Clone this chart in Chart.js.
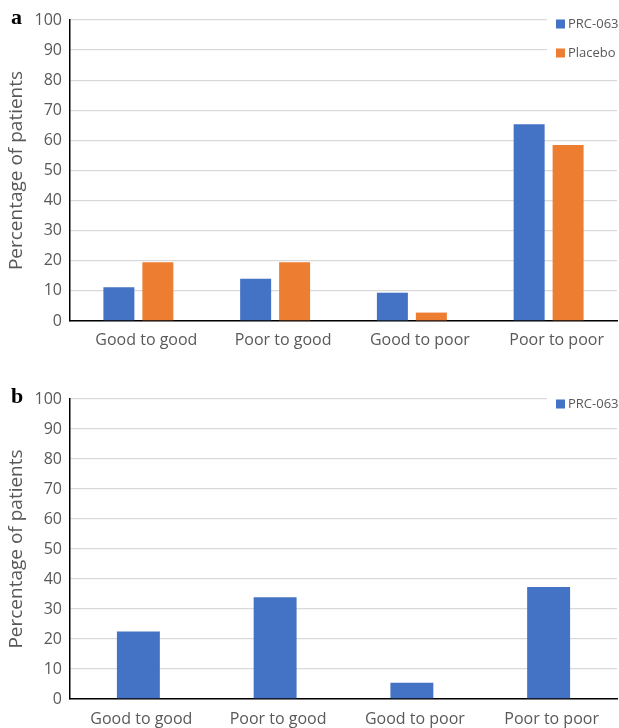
<!DOCTYPE html>
<html>
<head>
<meta charset="utf-8">
<script src="https://cdn.jsdelivr.net/npm/chart.js@4.4.1/dist/chart.umd.min.js"></script>
<style>
  html, body { margin: 0; padding: 0; background: #fff; }
  body { width: 619px; height: 728px; position: relative; overflow: hidden; }
  .panel { position: absolute; left: 0; width: 619px; }
  .tag { position: absolute; left: 11px; font: bold 22px "Liberation Serif", "DejaVu Serif", serif; color: #000; }
</style>
</head>
<body>
<div class="panel" style="top:0;height:355px"><canvas id="chart-a"></canvas></div>
<div class="panel" style="top:380px;height:348px"><canvas id="chart-b"></canvas></div>
<div class="tag" style="top:4px">a</div>
<div class="tag" style="top:383px">b</div>
<script>
const categories = ['Good to good', 'Poor to good', 'Good to poor', 'Poor to poor'];
const prcPanelA = [11.2, 14.0, 9.4, 65.4];
const placeboPanelA = [19.5, 19.5, 2.8, 58.5];
const prcPanelB = [22.5, 33.9, 5.4, 37.3];

const BLUE = '#4472C4';
const ORANGE = '#ED7D31';
const TEXT = '#595959';
const GRID = '#d9d9d9';
const FONT = '"Open Sans", "Noto Sans", sans-serif';

// Excel-style legend sitting on top of the plot area with a white backing
const cornerLegend = {
  id: 'cornerLegend',
  afterDraw(chart, args, opts) {
    const { ctx } = chart;
    const items = chart.data.datasets.map((ds) => ({ label: ds.label, color: ds.backgroundColor }));
    ctx.save();
    ctx.fillStyle = '#fff';
    ctx.fillRect(opts.x - 9, opts.top, chart.width - opts.x + 9, opts.rowGap * items.length);
    ctx.font = `13px ${FONT}`;
    ctx.textBaseline = 'middle';
    items.forEach((item, i) => {
      const cy = opts.firstY + i * opts.rowGap;
      ctx.fillStyle = item.color;
      ctx.fillRect(opts.x, cy - 4.5, 9, 9);
      ctx.fillStyle = TEXT;
      ctx.fillText(item.label, opts.x + 12, cy);
    });
    ctx.restore();
  },
};

const buildOptions = (xAxisHeight, topPad, labelPad, labelShift, legend) => ({
  responsive: true,
  maintainAspectRatio: false,
  animation: false,
  layout: { padding: { top: topPad, right: 2, left: 0, bottom: 0 } },
  plugins: {
    legend: { display: false },
    tooltip: { enabled: false },
    cornerLegend: legend,
  },
  scales: {
    x: {
      grid: { display: false, drawTicks: false },
      border: { color: '#000', width: 1.5 },
      ticks: {
        color: TEXT,
        font: { family: FONT, size: 16 },
        padding: labelPad,
        labelOffset: labelShift,
        maxRotation: 0,
      },
      afterFit: (scale) => { scale.height = xAxisHeight; },
    },
    y: {
      min: 0,
      max: 100,
      ticks: { stepSize: 10, color: TEXT, font: { family: FONT, size: 16 }, padding: 8 },
      grid: { color: GRID, lineWidth: 1.3, drawTicks: false },
      border: { color: '#000', width: 1.5 },
      title: {
        display: true,
        text: 'Percentage of patients',
        color: TEXT,
        font: { family: FONT, size: 19 },
        padding: { top: 5, bottom: 0 },
      },
      afterFit: (scale) => { scale.width = 70; },
    },
  },
});

new Chart(document.getElementById('chart-a'), {
  type: 'bar',
  data: {
    labels: categories,
    datasets: [
      { label: 'PRC-063', data: prcPanelA, backgroundColor: BLUE, categoryPercentage: 0.57, barPercentage: 0.795 },
      { label: 'Placebo', data: placeboPanelA, backgroundColor: ORANGE, categoryPercentage: 0.57, barPercentage: 0.795 },
    ],
  },
  options: buildOptions(34, 20, 10, 8, { x: 556, top: 10, firstY: 24, rowGap: 29 }),
  plugins: [cornerLegend],
});

new Chart(document.getElementById('chart-b'), {
  type: 'bar',
  data: {
    labels: categories,
    datasets: [
      { label: 'PRC-063', data: prcPanelB, backgroundColor: BLUE, categoryPercentage: 1, barPercentage: 0.314 },
    ],
  },
  options: buildOptions(29, 19, 11, 3, { x: 556, top: 11, firstY: 24, rowGap: 28 }),
  plugins: [cornerLegend],
});
</script>
</body>
</html>
